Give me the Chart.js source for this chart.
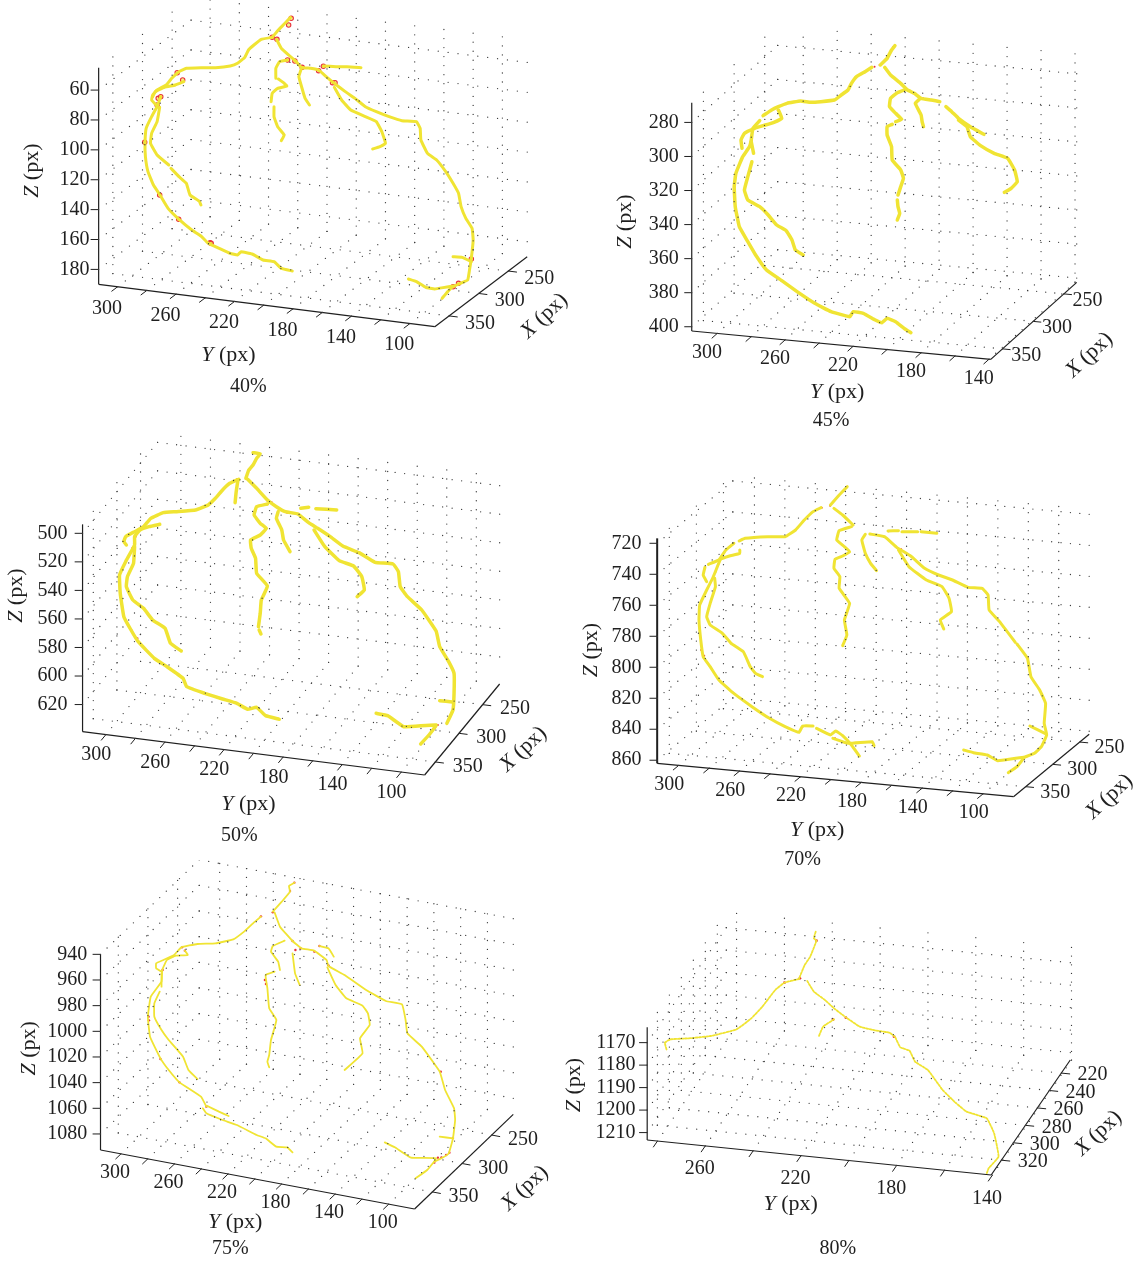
<!DOCTYPE html>
<html>
<head>
<meta charset="utf-8">
<title>Vessel trees</title>
<script src="https://cdn.jsdelivr.net/npm/chart.js@4"></script>
<style>
	html, body { margin: 0; padding: 0; background: #fff; }
	body { position: relative; width: 1134px; height: 1263px; overflow: hidden; }
	canvas { position: absolute; }
</style>
</head>
<body>
<script>
// Vessel branches and junctions in each panel's view units
const vessels40 = [
	[[795,52],[780,70],[760,92],[745,112]],
	[[745,112],[715,118],[695,135],[680,150],[670,172],[650,190],[630,198],[590,203],[550,203],[510,205],[490,215],[470,235],[455,255],[430,270],[418,285],[415,300],[430,318]],
	[[503,245],[480,255],[450,262],[425,275],[418,290]],
	[[440,290],[430,320],[415,350],[400,385],[397,427],[398,470],[405,515],[420,555],[438,585],[460,625],[490,658],[525,690],[550,708],[570,730],[600,745],[630,760],[650,765],[660,755],[690,762],[720,780],[750,785],[770,805],[800,813]],
	[[437,322],[430,365],[415,400],[412,430],[430,465],[462,495]],
	[[468,505],[490,530],[510,550],[520,585],[545,603],[550,615]],
	[[757,118],[770,145],[790,165],[808,182],[825,202],[850,205],[872,210],[895,232],[915,250],[945,275],[975,298],[1000,320],[1030,335],[1065,350],[1100,362],[1140,365],[1150,385],[1152,420],[1170,460],[1195,480],[1220,515],[1240,550],[1255,580],[1262,620],[1275,655],[1292,685],[1295,720],[1290,775],[1285,810],[1280,840],[1260,850],[1240,860]],
	[[1240,770],[1265,772],[1290,785]],
	[[1118,837],[1140,845],[1165,862],[1190,867],[1240,858],[1225,875],[1210,895]],
	[[787,180],[765,185],[755,205],[755,235]],
	[[762,237],[778,250],[785,258],[760,265],[745,280],[742,305]],
	[[750,320],[750,350],[760,380],[778,405],[770,422]],
	[[825,205],[818,230],[828,270],[835,295],[847,315]],
	[[885,198],[920,200],[950,200],[988,203]],
	[[915,262],[935,300],[960,330],[1000,350],[1030,365],[1045,395],[1055,430],[1040,440],[1020,447]],
];
const junctions40 = [[797,55],[790,75],[745,112],[758,118],[787,180],[807,183],[827,202],[872,212],[885,199],[910,248],[917,248],[485,218],[500,240],[433,295],[440,290],[430,315],[396,427],[437,585],[489,658],[575,728],[578,730],[1290,777],[1240,860],[1255,850]];

const vessels45 = [
	[[868,47],[858,60],[845,85],[825,105]],
	[[800,112],[780,125],[755,140],[740,160],[730,180],[710,195],[690,210],[650,215],[620,217],[590,213],[550,220],[525,230],[505,240],[480,257]],
	[[525,240],[535,265],[510,278],[480,287],[455,295],[425,310],[415,330],[418,355]],
	[[470,272],[450,295],[445,330],[440,350],[420,380],[400,430],[395,470],[398,530],[410,590],[435,635],[458,675],[490,720],[535,752],[580,785],[632,820],[680,845],[735,860],[745,845],[775,850],[810,870],[830,878],[845,865],[870,875],[895,895],[915,908]],
	[[445,335],[452,370]],
	[[447,395],[435,440],[425,480],[435,510],[470,530],[495,555],[520,585],[548,602],[565,630],[575,660],[598,675]],
	[[838,112],[855,135],[885,160],[905,180],[925,190],[945,205],[975,210],[1000,215]],
	[[1018,230],[1035,245],[1055,265],[1090,290],[1130,313]],
	[[1055,270],[1080,290],[1090,320],[1120,347],[1160,370],[1200,385],[1220,420],[1228,455],[1210,475],[1190,487]],
	[[900,178],[875,188],[855,205],[852,230],[870,250],[888,268],[870,275]],
	[[860,283],[845,290],[845,315],[858,350],[860,390],[885,420],[893,445],[885,470],[877,495]],
	[[875,510],[877,530],[882,550],[875,570]],
	[[940,208],[928,220],[945,255],[948,275],[952,290]],
];
const junctions45 = [[862,52],[823,105],[808,110],[898,178],[908,180],[941,207],[950,204],[1053,262],[528,228],[523,240],[447,330],[439,352],[456,675],[534,752],[632,818]];

const vessels50 = [
	[[705,68],[725,72],[715,85],[705,105],[693,120],[685,145]],
	[[665,148],[640,160],[620,180],[600,205],[580,225],[545,240],[490,245],[455,248],[420,265],[400,290],[375,305],[350,320],[345,335],[352,345]],
	[[445,283],[415,290],[390,300],[375,320],[375,345],[350,395],[333,435],[335,490],[345,560],[365,600],[385,635],[430,685],[465,710],[510,745],[520,770],[570,790],[620,807],[660,820],[690,838],[715,832],[740,857],[778,868]],
	[[375,350],[372,400],[355,440],[352,470],[370,510],[400,535],[425,570],[460,595],[475,640],[505,663]],
	[[663,150],[658,185],[655,218]],
	[[690,148],[715,175],[745,210],[770,230],[795,245],[830,252],[860,278],[885,295],[920,320],[955,348],[1000,368],[1045,397],[1095,402],[1110,425],[1115,470],[1135,500],[1175,540],[1215,603],[1225,650],[1250,695],[1265,730],[1265,790],[1262,840],[1245,880]],
	[[1225,812],[1260,816]],
	[[1048,850],[1080,857],[1125,890],[1215,885],[1195,915],[1172,942]],
	[[875,300],[905,350],[945,392],[985,408],[1008,440],[1015,480],[995,500]],
	[[745,222],[715,230],[708,255],[725,280],[742,295],[725,315],[698,330],[700,355],[712,385],[715,430],[745,468],[728,510],[725,550],[720,590]],
	[[722,600],[727,612]],
	[[775,245],[770,265],[785,300],[790,330],[808,365]],
	[[838,235],[860,232]],
	[[880,236],[938,240]],
];
const junctions50 = [[660,148],[685,145],[695,120],[713,88],[745,212],[757,217],[740,222],[833,253],[865,283],[418,267],[440,255],[458,247],[490,245],[378,320],[373,340],[368,355],[366,600],[383,625],[395,645],[430,687],[1215,603],[1262,815],[1210,887],[1220,885],[800,248],[880,237]];

const vessels70 = [
	[[738,50],[715,75],[690,105]],
	[[663,113],[640,125],[615,150],[590,180],[560,200],[510,200],[445,205],[428,213]],
	[[413,220],[390,240],[370,270],[340,283]],
	[[430,240],[430,250],[400,258],[375,268],[360,305],[352,325],[335,360],[315,405],[313,450],[318,510],[325,560],[345,590],[370,630],[410,668],[465,710],[515,745],[560,770],[600,787],[610,768],[640,768]],
	[[650,775],[690,795],[705,783],[725,797],[750,825],[773,858]],
	[[697,805],[740,820],[810,815],[815,827]],
	[[330,292],[325,315],[335,335]],
	[[358,325],[360,350],[345,400],[335,440],[345,465],[380,490],[405,520],[440,545],[460,590],[475,610],[495,620]],
	[[700,115],[725,135],[755,165]],
	[[750,170],[715,182],[708,210],[730,230],[745,245],[725,258],[703,268],[700,295],[717,320],[715,355],[745,400],[730,450],[737,495],[725,527]],
	[[803,192],[845,200],[880,232],[920,258],[960,295],[1000,315],[1040,330],[1085,352],[1125,355],[1142,375],[1145,420],[1175,455],[1220,517]],
	[[1225,522],[1255,565],[1265,620],[1290,660],[1307,700],[1303,760],[1310,795],[1295,830],[1275,850],[1245,862]],
	[[1262,768],[1305,790]],
	[[1072,840],[1100,848],[1140,855],[1170,872],[1245,862],[1225,890],[1200,908]],
	[[885,240],[915,290],[965,330],[1010,350],[1030,385],[1037,425],[1005,450],[1015,477]],
	[[790,193],[780,210],[790,250],[805,280],[822,302]],
	[[855,183],[885,182]],
	[[895,185],[940,185]],
	[[950,185],[995,190]],
];
const junctions70 = [[665,113],[689,107],[750,170],[703,268],[803,192],[844,201],[882,235],[893,238],[856,184],[413,220],[430,240],[360,305],[352,325],[313,448],[319,540],[328,557],[411,668],[517,746],[610,770],[690,795],[703,805],[1257,565],[1303,762],[1240,862],[1252,860]];

const vessels75 = [
	[[820,68],[805,78],[808,95],[785,125],[760,155]],
	[[727,170],[705,190],[680,215],[650,238],[600,250],[550,252],[505,262],[485,285],[455,300],[435,310],[435,325],[450,335]],
	[[515,272],[523,285],[490,287],[465,300],[452,330],[450,365],[420,410],[412,470],[418,530],[447,595],[470,630],[500,667],[560,710],[575,740]],
	[[565,745],[575,760],[620,780],[660,795],[715,825],[740,835],[770,860],[800,862],[815,877]],
	[[578,738],[610,755],[637,768]],
	[[450,340],[450,380]],
	[[445,395],[430,430],[430,470],[450,510],[470,540],[510,590],[525,630],[550,657]],
	[[765,157],[780,200],[815,243],[840,265],[875,272],[910,300],[915,318],[960,345],[1020,390],[1075,423],[1120,433],[1130,480],[1135,520],[1175,560],[1225,635],[1240,690],[1265,745],[1268,780],[1262,835],[1250,880],[1230,895],[1210,905]],
	[[1225,830],[1262,835]],
	[[1072,847],[1100,862],[1145,893],[1215,895],[1190,930],[1158,955]],
	[[912,322],[935,375],[965,415],[1010,437],[1025,460],[1030,495],[1003,535],[1010,580],[960,630]],
	[[793,242],[760,258],[755,275],[775,305],[780,330]],
	[[765,335],[740,345],[745,385],[750,445],[770,480],[755,540],[750,585],[745,605],[750,622]],
	[[815,280],[822,340],[835,375]],
	[[890,258],[915,265],[930,290]],
];
const junctions75 = [[820,68],[808,93],[760,157],[727,169],[815,243],[823,270],[838,265],[876,275],[890,258],[915,316],[507,262],[515,272],[453,330],[414,470],[415,481],[447,597],[500,667],[575,740],[738,360],[741,372],[1228,635],[1262,834],[1252,878],[1243,885],[1220,893],[1230,892],[1210,908]];

const vessels80 = [
	[[695,65],[690,85],[697,92],[680,140],[665,165],[650,205]],
	[[672,213],[690,245],[720,270],[745,295],[777,322],[815,350],[860,362],[895,368],[910,380],[925,412],[950,422],[965,455],[1000,480],[1040,540],[1075,578],[1105,605],[1160,625],[1180,670],[1192,740],[1165,775],[1160,790]],
	[[650,207],[610,218],[585,240],[550,290],[520,325],[480,358],[410,378],[350,385],[300,388],[285,398],[290,420]],
	[[745,328],[715,350],[703,380]],
];
const junctions80 = [[697,92],[652,205],[610,218],[777,323],[742,329],[908,380]];

// Tick labels
const zTicks40 = [60, 80, 100, 120, 140, 160, 180];
const zTicks45 = [280, 300, 320, 340, 360, 380, 400];
const zTicks50 = [500, 520, 540, 560, 580, 600, 620];
const zTicks70 = [720, 740, 760, 780, 800, 820, 840, 860];
const zTicks75 = [940, 960, 980, 1000, 1020, 1040, 1060, 1080];
const zTicks80 = [1170, 1180, 1190, 1200, 1210];
const yTicksLong = [300, 280, 260, 240, 220, 200, 180, 160, 140, 120, 100];
const yTicks45 = [300, 280, 260, 240, 220, 200, 180, 160, 140];
const yTicks80 = [280, 260, 240, 220, 200, 180, 160, 140];
const yLabels80 = [260, 220, 180, 140];
const yLabelsLong = [300, 260, 220, 180, 140, 100];
const yLabels45 = [300, 260, 220, 180, 140];
const xTicksWide = [250, 300, 350];
const xTicks80 = [220, 240, 260, 280, 300, 320];

// Canvas placement and the axis box of each panel (view units are the zoom scale of the panel)
const panels = [
	{ left: 0, top: 0, width: 570, height: 410, scale: 2.737, vessels: vessels40, junctions: junctions40, lineWidth: 3, hollow: true, markerSize: 2.2,
		origin: [270,853], corner: [1190,980], xEnd: [1443,770], zTop: [270,203], yRange: [313,83], xRange: [374,218], zRange: [45,190],
		zTicks: zTicks40, yTicks: yTicksLong, yLabels: yLabelsLong, xTicks: xTicksWide, zRight: 245, yOffset: [-29,65], xOffset: [85,23],
		caption: "40%", captionAt: [680,1160], yAt: [625,1065], zAt: [88,512], xAt: [1490,948] },
	{ left: 600, top: 30, width: 530, height: 400, scale: 2.943, vessels: vessels45, junctions: junctions45, lineWidth: 3.5, markerSize: 1,
		origin: [270,903], corner: [1150,988], xEnd: [1403,757], zTop: [270,218], yRange: [315,139], xRange: [369,229], zRange: [268.4,402.5],
		zTicks: zTicks45, yTicks: yTicks45, yLabels: yLabels45, xTicks: xTicksWide, zRight: 232, yOffset: [-30,58], xOffset: [70,20],
		caption: "45%", captionAt: [680,1172], yAt: [698,1087], zAt: [75,575], xAt: [1440,975] },
	{ left: 0, top: 430, width: 560, height: 420, scale: 2.786, vessels: vessels50, junctions: junctions50, lineWidth: 3.5, markerSize: 1,
		origin: [230,905], corner: [1183,1035], xEnd: [1392,762], zTop: [230,283], yRange: [315.8,84.2], xRange: [372.7,214], zRange: [493.7,639],
		zTicks: zTicks50, yTicks: yTicksLong, yLabels: yLabelsLong, xTicks: xTicksWide, zRight: 188, yOffset: [-27,61], xOffset: [90,13],
		caption: "50%", captionAt: [667,1218], yAt: [692,1122], zAt: [45,497], xAt: [1458,958] },
	{ left: 570, top: 470, width: 564, height: 400, scale: 2.868, viewLeft: -57, vessels: vessels70, junctions: junctions70, lineWidth: 3, markerSize: 1,
		origin: [193,880], corner: [1215,980], xEnd: [1432,793], zTop: [193,205], yRange: [314.2,80], xRange: [372.4,232.7], zRange: [716.8,862],
		zTicks: zTicks70, yTicks: yTicksLong, yLabels: yLabelsLong, xTicks: xTicksWide, zRight: 148, zWidth: 2, yOffset: [-27,58], xOffset: [85,17],
		caption: "70%", captionAt: [610,1168], yAt: [652,1080], zAt: [3,540], xAt: [1490,980] },
	{ left: 0, top: 860, width: 560, height: 403, scale: 2.786, vessels: vessels75, junctions: junctions75, lineWidth: 1.8, markerSize: 1.2,
		origin: [280,870], corner: [1155,1047], xEnd: [1430,763], zTop: [280,283], yRange: [315.3,80.7], xRange: [380,213.6], zRange: [940,1092.5],
		zTicks: zTicks75, yTicks: yTicksLong, yLabels: yLabelsLong, xTicks: xTicksWide, zRight: 243, yOffset: [-17,57], xOffset: [87,15],
		caption: "75%", captionAt: [642,1165], yAt: [655,1088], zAt: [82,565], xAt: [1462,985] },
	{ left: 560, top: 910, width: 574, height: 353, scale: 2.718, vessels: vessels80, junctions: junctions80, lineWidth: 1.8, dash: [2,1.5], markerSize: 1.4,
		origin: [237,690], corner: [1172,795], xEnd: [1387,450], zTop: [237,352], yRange: [284.3,140.5], xRange: [337,205], zRange: [1163.2,1213.3],
		zTicks: zTicks80, yTicks: yTicks80, yLabels: yLabels80, xTicks: xTicks80, zRight: 205, yOffset: [-15,70], xOffset: [85,6],
		caption: "80%", captionAt: [755,1017], yAt: [627,883], zAt: [40,525], xAt: [1463,670] },
];

const VIEW_Y_SCALE = 3;
const YELLOW = "#f0e433";
const RED = "#e8323c";
const INK = "#1f1f1f";
const TEXT_FONT = "'Liberation Serif', serif";
const TEXT_SIZE = 20;
const TITLE_SIZE = 22;
const DOT_SPACING = 27;

// Axis values (x, y, z) to the panel's view plane
function projector(p) {
	return (xv, yv, zv) => {
		const fy = (yv - p.yRange[0]) / (p.yRange[1] - p.yRange[0]);
		const fx = (xv - p.xRange[0]) / (p.xRange[1] - p.xRange[0]);
		const fz = (zv - p.zRange[1]) / (p.zRange[0] - p.zRange[1]);
		return {
			x: p.origin[0] + fy * (p.corner[0] - p.origin[0]) + fx * (p.xEnd[0] - p.corner[0]),
			y: p.origin[1] + fy * (p.corner[1] - p.origin[1]) + fx * (p.xEnd[1] - p.corner[1]) + fz * (p.zTop[1] - p.origin[1]),
		};
	};
}

// Dotted grid on the floor and the two back walls
function gridDots(p) {
	const at = projector(p);
	const [x0, x1] = p.xRange;
	const [y0, y1] = p.yRange;
	const [z0, z1] = p.zRange;
	const lines = [];
	p.yTicks.forEach((y) => {
		lines.push([at(x0, y, z1), at(x1, y, z1)]);
		lines.push([at(x1, y, z1), at(x1, y, z0)]);
	});
	p.xTicks.forEach((x) => {
		lines.push([at(x, y0, z1), at(x, y1, z1)]);
		lines.push([at(x, y0, z1), at(x, y0, z0)]);
	});
	p.zTicks.forEach((z) => {
		lines.push([at(x1, y0, z), at(x1, y1, z)]);
		lines.push([at(x0, y0, z), at(x1, y0, z)]);
	});
	const dots = [];
	lines.forEach(([a, b]) => {
		const count = Math.round(Math.hypot(b.x - a.x, b.y - a.y) / DOT_SPACING);
		for (let i = 0; i <= count; i++) {
			dots.push({ x: a.x + ((b.x - a.x) * i) / count, y: a.y + ((b.y - a.y) * i) / count });
		}
	});
	return dots;
}

// Axis lines and tick marks as short line datasets
function axisSegments(p) {
	const at = projector(p);
	const [x0, x1] = p.xRange;
	const [y0, y1] = p.yRange;
	const [z0, z1] = p.zRange;
	const unit = (a, b, len) => {
		const d = Math.hypot(b.x - a.x, b.y - a.y);
		return { x: ((b.x - a.x) / d) * len, y: ((b.y - a.y) / d) * len };
	};
	const segments = [
		{ points: [at(x0, y0, z1), at(x0, y0, z0)], width: p.zWidth || 1.2 },
		{ points: [at(x0, y0, z1), at(x0, y1, z1)], width: 1.2 },
		{ points: [at(x0, y1, z1), at(x1, y1, z1)], width: 1.2 },
	];
	const yDir = unit(at(x0, y0, z1), at(x1, y0, z1), -22);
	p.yTicks.forEach((y) => {
		const a = at(x0, y, z1);
		segments.push({ points: [a, { x: a.x + yDir.x, y: a.y + yDir.y }], width: 1 });
	});
	const xDir = unit(at(x0, y0, z1), at(x0, y1, z1), 24);
	p.xTicks.forEach((x) => {
		const a = at(x, y1, z1);
		segments.push({ points: [a, { x: a.x + xDir.x, y: a.y + xDir.y }], width: 1 });
	});
	p.zTicks.forEach((z) => {
		const a = at(x0, y0, z);
		segments.push({ points: [a, { x: a.x - 22, y: a.y }], width: 1 });
	});
	return segments;
}

// Tick labels, axis titles and the panel caption
const panelText = {
	id: "panelText",
	afterDatasetsDraw(chart, args, opts) {
		const p = opts.panel;
		const at = projector(p);
		const { ctx, scales } = chart;
		const px = (pt) => [scales.x.getPixelForValue(pt[0]), scales.y.getPixelForValue(pt[1])];
		const regular = `${TEXT_SIZE}px ${TEXT_FONT}`;
		const titleRegular = `${TITLE_SIZE}px ${TEXT_FONT}`;
		const titleItalic = `italic ${TITLE_SIZE}px ${TEXT_FONT}`;

		ctx.save();
		ctx.fillStyle = INK;
		ctx.textBaseline = "middle";
		ctx.font = regular;

		ctx.textAlign = "right";
		p.zTicks.forEach((z) => {
			const a = at(p.xRange[0], p.yRange[0], z);
			const [tx, ty] = px([p.zRight, a.y]);
			ctx.fillText(String(z), tx, ty);
		});

		ctx.textAlign = "center";
		p.yLabels.forEach((y) => {
			const a = at(p.xRange[0], y, p.zRange[1]);
			const [tx, ty] = px([a.x + p.yOffset[0], a.y + p.yOffset[1]]);
			ctx.fillText(String(y), tx, ty);
		});
		p.xTicks.forEach((x) => {
			const a = at(x, p.yRange[1], p.zRange[1]);
			const [tx, ty] = px([a.x + p.xOffset[0], a.y + p.xOffset[1]]);
			ctx.fillText(String(x), tx, ty);
		});

		const [cx, cy] = px(p.captionAt);
		ctx.fillText(p.caption, cx, cy);

		const axisTitle = (letter, pos, angle) => {
			const [tx, ty] = px(pos);
			ctx.save();
			ctx.translate(tx, ty);
			ctx.rotate(angle);
			ctx.textAlign = "left";
			ctx.font = titleItalic;
			const w1 = ctx.measureText(letter).width;
			ctx.font = titleRegular;
			const w2 = ctx.measureText(" (px)").width;
			const start = -(w1 + w2) / 2;
			ctx.font = titleItalic;
			ctx.fillText(letter, start, 0);
			ctx.font = titleRegular;
			ctx.fillText(" (px)", start + w1, 0);
			ctx.restore();
		};
		axisTitle("Y", p.yAt, 0);
		axisTitle("Z", p.zAt, -Math.PI / 2);
		axisTitle("X", p.xAt, (-43 * Math.PI) / 180);
		ctx.restore();
	},
};

function toPoints(list) {
	return list.map((pt) => ({ x: pt[0], y: pt[1] }));
}

function buildDatasets(p) {
	const datasets = [
		{
			type: "scatter",
			data: gridDots(p),
			pointRadius: 0.65,
			pointBorderWidth: 0,
			pointBackgroundColor: "#3a3a3a",
		},
	];
	axisSegments(p).forEach((seg) => {
		datasets.push({
			type: "line",
			data: seg.points,
			borderColor: INK,
			borderWidth: seg.width,
			pointRadius: 0,
		});
	});
	p.vessels.forEach((branch) => {
		datasets.push({
			type: "line",
			data: toPoints(branch),
			borderColor: YELLOW,
			borderWidth: p.lineWidth,
			borderDash: p.dash || [],
			borderCapStyle: "round",
			borderJoinStyle: "round",
			tension: 0.1,
			pointRadius: 0,
		});
	});
	datasets.push({
		type: "scatter",
		data: toPoints(p.junctions),
		pointRadius: p.markerSize,
		pointBorderWidth: p.hollow ? 1.1 : 0,
		pointBorderColor: RED,
		pointBackgroundColor: p.hollow ? "rgba(240, 228, 51, 0.6)" : RED,
	});
	return datasets;
}

panels.forEach((p) => {
	const canvas = document.createElement("canvas");
	canvas.width = p.width;
	canvas.height = p.height;
	canvas.style.left = p.left + "px";
	canvas.style.top = p.top + "px";
	canvas.style.width = p.width + "px";
	canvas.style.height = p.height + "px";
	document.body.appendChild(canvas);

	const viewLeft = p.viewLeft || 0;
	new Chart(canvas.getContext("2d"), {
		type: "scatter",
		data: { datasets: buildDatasets(p) },
		options: {
			responsive: false,
			animation: false,
			events: [],
			layout: { padding: 0, autoPadding: false },
			plugins: {
				legend: { display: false },
				tooltip: { enabled: false },
				panelText: { panel: p },
			},
			scales: {
				x: { type: "linear", display: false, min: viewLeft, max: viewLeft + p.width * p.scale },
				y: { type: "linear", display: false, reverse: true, min: 0, max: p.height * VIEW_Y_SCALE },
			},
		},
		plugins: [panelText],
	});
});
</script>
</body>
</html>
